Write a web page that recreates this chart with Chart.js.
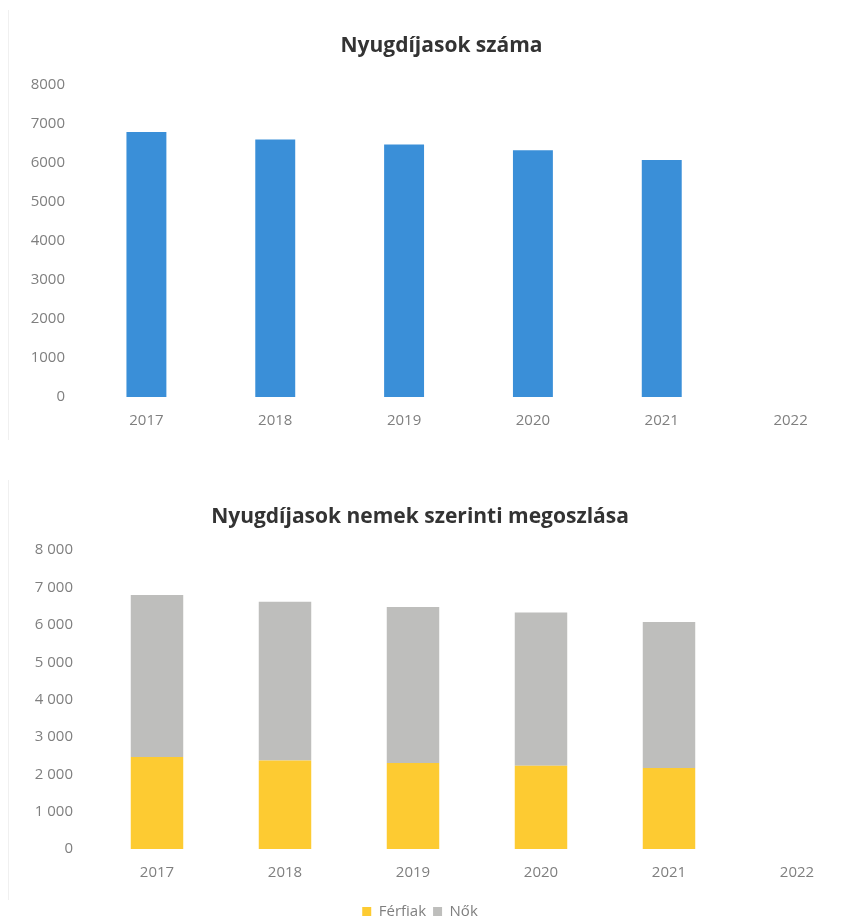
<!DOCTYPE html>
<html>
<head>
<meta charset="utf-8">
<script src="https://cdn.jsdelivr.net/npm/chart.js@4"></script>
<style>
  html, body { margin: 0; padding: 0; background: #fff; }
  body { width: 864px; height: 923px; position: relative; overflow: hidden; }
  .box { position: absolute; }
  #c1box { top: 0; left: 0; width: 864px; height: 445px; }
  #c2box { top: 460px; left: -60px; width: 924px; height: 469px; }
  .edge { position: absolute; left: 8px; width: 1px; background: #f0f0f0; }
</style>
</head>
<body>
<div class="edge" style="top:10px;height:430px"></div>
<div class="edge" style="top:480px;height:420px"></div>
<div class="box" id="c1box"><canvas id="c1"></canvas></div>
<div class="box" id="c2box"><canvas id="c2"></canvas></div>
<script>
const years = ['2017', '2018', '2019', '2020', '2021', '2022'];
const totalPensioners = [6800, 6610, 6480, 6330, 6080, null];
const men = [2460, 2370, 2300, 2230, 2170, null];
const women = [4340, 4250, 4180, 4100, 3910, null];
const yTickValues = [0, 1000, 2000, 3000, 4000, 5000, 6000, 7000, 8000];
const yTickLabelsTop = ['0', '1000', '2000', '3000', '4000', '5000', '6000', '7000', '8000'];
const yTickLabelsBottom = ['0', '1 000', '2 000', '3 000', '4 000', '5 000', '6 000', '7 000', '8 000'];

const fontFam = "'Open Sans', 'Liberation Sans', sans-serif";
const tickColor = '#7f7f7f';

function labelFor(arr) {
  return function(v) {
    const i = yTickValues.indexOf(v);
    return i >= 0 ? arr[i] : '';
  };
}

new Chart(document.getElementById('c1'), {
  type: 'bar',
  data: {
    labels: years,
    datasets: [{
      label: 'Nyugdíjasok száma',
      data: totalPensioners,
      backgroundColor: '#3a8fd8',
      categoryPercentage: 1.0,
      barPercentage: 0.31
    }]
  },
  options: {
    responsive: true,
    maintainAspectRatio: false,
    animation: false,
    layout: { padding: { top: 33, left: 28, right: 9, bottom: 0 } },
    plugins: {
      legend: { display: false },
      tooltip: { enabled: false },
      title: {
        display: true,
        text: 'Nyugdíjasok száma',
        color: '#333333',
        font: { family: fontFam, size: 21, weight: 'bold' },
        padding: { top: 0, bottom: 27 }
      }
    },
    scales: {
      x: {
        grid: { display: false, drawTicks: false },
        border: { display: false },
        ticks: { color: tickColor, font: { family: fontFam, size: 15 }, padding: 15 }
      },
      y: {
        min: 0, max: 8000,
        afterFit: s => { s.width = 54; },
        afterBuildTicks: s => { s.ticks = yTickValues.map(v => ({ value: v })); },
        grid: { display: false, drawTicks: false },
        border: { display: false },
        ticks: { color: tickColor, font: { family: fontFam, size: 15 }, padding: 17, callback: labelFor(yTickLabelsTop) }
      }
    }
  }
});

new Chart(document.getElementById('c2'), {
  type: 'bar',
  data: {
    labels: years,
    datasets: [
      {
        label: 'Férfiak',
        data: men,
        backgroundColor: '#fdcb32',
        categoryPercentage: 1.0,
        barPercentage: 0.41
      },
      {
        label: 'Nők',
        data: women,
        backgroundColor: '#bebebc',
        categoryPercentage: 1.0,
        barPercentage: 0.41
      }
    ]
  },
  options: {
    responsive: true,
    maintainAspectRatio: false,
    animation: false,
    layout: { padding: { top: 44, left: 39, right: 3, bottom: 0 } },
    plugins: {
      tooltip: { enabled: false },
      title: {
        display: true,
        text: 'Nyugdíjasok nemek szerinti megoszlása',
        color: '#333333',
        font: { family: fontFam, size: 21, weight: 'bold' },
        padding: { top: 0, bottom: 21 }
      },
      legend: {
        display: true,
        position: 'bottom',
        labels: {
          boxWidth: 9, boxHeight: 9,
          color: tickColor,
          font: { family: fontFam, size: 15 },
          padding: 7
        }
      }
    },
    scales: {
      x: {
        stacked: true,
        grid: { display: false, drawTicks: false },
        border: { display: false },
        ticks: { color: tickColor, font: { family: fontFam, size: 15 }, padding: 15 }
      },
      y: {
        stacked: true,
        min: 0, max: 8000,
        afterFit: s => { s.width = 114; },
        afterBuildTicks: s => { s.ticks = yTickValues.map(v => ({ value: v })); },
        grid: { display: false, drawTicks: false },
        border: { display: false },
        ticks: { color: tickColor, font: { family: fontFam, size: 15 }, padding: 20, callback: labelFor(yTickLabelsBottom) }
      }
    }
  }
});
</script>
</body>
</html>
